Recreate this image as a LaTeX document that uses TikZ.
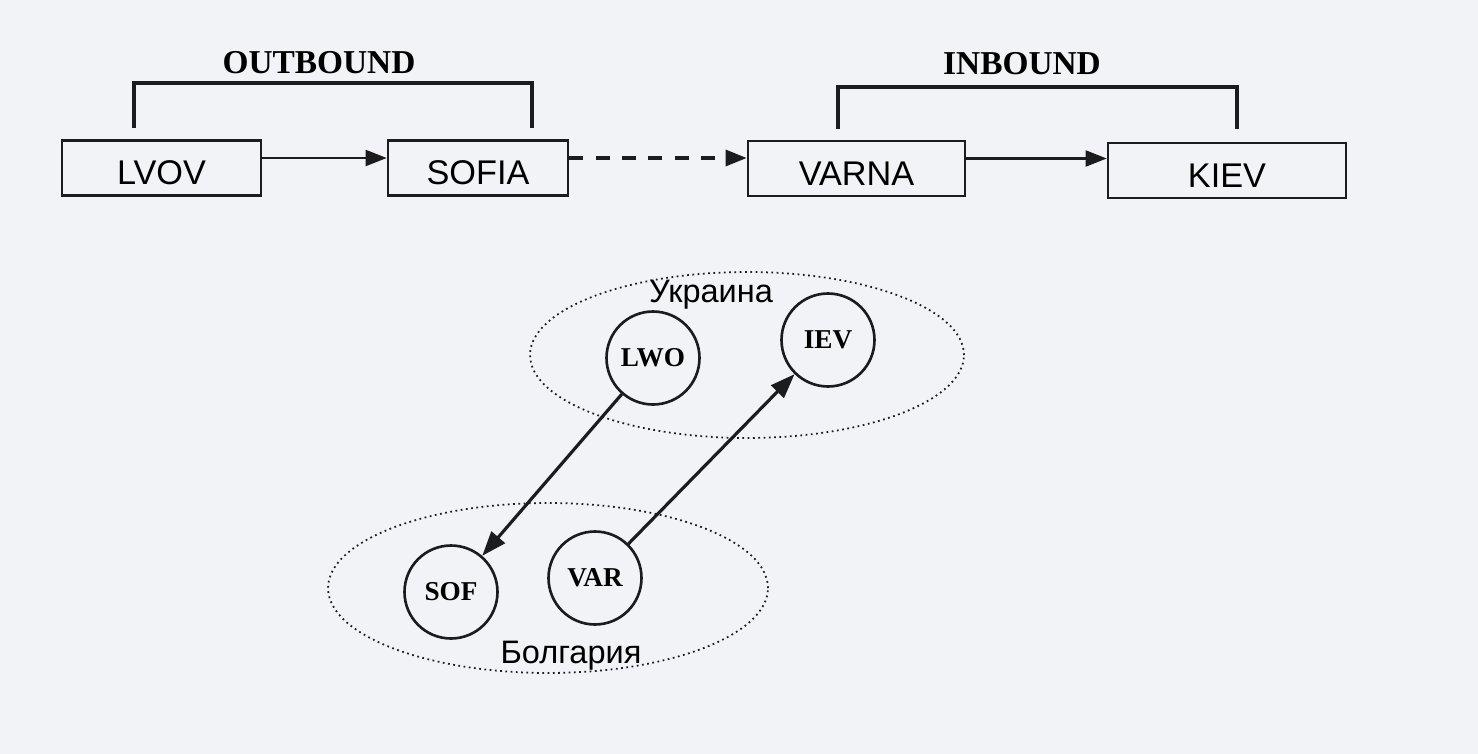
\documentclass[tikz,border=0pt]{standalone}
\usepackage{fontspec}
\setmainfont{Liberation Serif}
\newfontfamily\arialfont{Liberation Sans}
\usetikzlibrary{arrows.meta}
\definecolor{paper}{RGB}{241,243,247}
\definecolor{ink}{RGB}{28,28,30}

\begin{document}
\begin{tikzpicture}[x=0.02cm,y=-0.02cm,
  city/.style={draw=ink,line width=1.4pt,minimum height=1.1cm,inner sep=0pt,
    text height=0.68cm,text depth=0cm,font=\arialfont\fontsize{19.5}{19.5}\selectfont},
  port/.style={circle,draw=ink,line width=1.5pt,minimum size=1.86cm,inner sep=0pt,
    font=\bfseries\fontsize{15.5}{15.5}\selectfont},
  leg/.style={-{Triangle[length=12pt,width=9pt]},ink,line width=1.4pt},
  hop/.style={-{Triangle[length=14pt,width=10pt]},ink,line width=1.8pt},
  part/.style={ink,line width=2.4pt},
  parttitle/.style={font=\bfseries\fontsize{19}{19}\selectfont},
  zone/.style={ink,dotted,line width=1pt},
  country/.style={anchor=base,font=\arialfont\fontsize{18.5}{18.5}\selectfont}]
% Page
\fill[paper] (0,0) rectangle (1478,754);

% Route boxes
\node[city,minimum width=3.98cm] (lvov) at (161.5,168) {LVOV};
\node[city,minimum width=3.6cm] (sofia) at (478,168) {SOFIA};
\node[city,minimum width=4.34cm] (varna) at (856.5,168.5) {VARNA};
\node[city,minimum width=4.76cm] (kiev) at (1227,170.5) {KIEV};

% Legs of the route
\draw[leg] ([yshift=0.2cm]lvov.east) -- ([yshift=0.2cm]lvov.east -| sofia.west);
\draw[leg,dash pattern=on 8pt off 7pt,line width=2pt] ([yshift=0.2cm]sofia.east) -- ([yshift=0.2cm]sofia.east -| varna.west);
\draw[leg] ([yshift=0.2cm]varna.east) -- ([yshift=0.2cm]varna.east -| kiev.west);

% Outbound part
\draw[part] (134,128) -- (134,83) -- (532,83) -- (532,128);
\node[parttitle] (outbound) at (319,63) {OUTBOUND};

% Inbound part
\draw[part] (838,129) -- (838,87) -- (1237,87) -- (1237,129);
\node[parttitle] (inbound) at (1022,64) {INBOUND};

% Countries
\draw[zone] (747,355) ellipse [x radius=4.34cm, y radius=1.66cm];
\node[country] (ua) at (711,302) {Украина};
\draw[zone] (548,588) ellipse [x radius=4.4cm, y radius=1.7cm];
\node[country] (bg) at (571,663) {Болгария};

% Airports
\node[port] (lwo) at (653,358) {LWO};
\node[port] (iev) at (828,340) {IEV};
\node[port] (sof) at (451,592) {SOF};
\node[port] (var) at (595,578) {VAR};

\draw[hop] (lwo) -- (sof);
\draw[hop] (var) -- (iev);
\end{tikzpicture}
\end{document}
